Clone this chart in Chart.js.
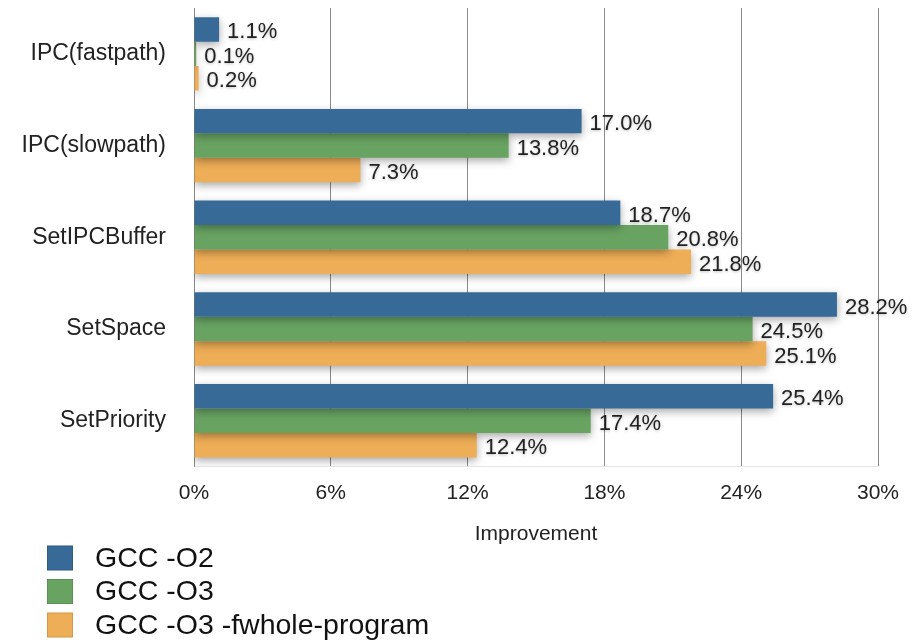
<!DOCTYPE html>
<html>
<head>
<meta charset="utf-8">
<script src="https://cdn.jsdelivr.net/npm/chart.js@4/dist/chart.umd.min.js"></script>
<style>
  html, body { margin: 0; padding: 0; background: #ffffff; }
  #wrap { position: relative; width: 918px; height: 640px; }
</style>
</head>
<body>
<div id="wrap"><canvas id="c" width="918" height="640"></canvas></div>
<script>
const categories = ['IPC(fastpath)', 'IPC(slowpath)', 'SetIPCBuffer', 'SetSpace', 'SetPriority'];
const seriesNames = ['GCC -O2', 'GCC -O3', 'GCC -O3 -fwhole-program'];
const gccO2 = [1.1, 17.0, 18.7, 28.2, 25.4];
const gccO3 = [0.1, 13.8, 20.8, 24.5, 17.4];
const gccO3Whole = [0.2, 7.3, 21.8, 25.1, 12.4];
const tickValues = [0, 6, 12, 18, 24, 30];
const axisTitle = 'Improvement';

const colors = ['#386a98', '#68a362', '#eead57'];
const FONT = '"Liberation Sans", Arial, Helvetica, sans-serif';

const shadowPlugin = {
  id: 'barShadow',
  beforeDatasetsDraw(chart) {
    const ctx = chart.ctx;
    ctx.save();
    ctx.shadowColor = 'rgba(0,0,0,0.35)';
    ctx.shadowBlur = 9;
    ctx.shadowOffsetX = 0;
    ctx.shadowOffsetY = 3;
  },
  afterDatasetsDraw(chart) {
    chart.ctx.restore();
  }
};

const labelPlugin = {
  id: 'valueLabels',
  afterDatasetsDraw(chart) {
    const ctx = chart.ctx;
    ctx.save();
    ctx.font = '22px ' + FONT;
    ctx.fillStyle = '#222';
    ctx.textAlign = 'left';
    ctx.textBaseline = 'middle';
    ctx.shadowColor = 'rgba(0,0,0,0.25)';
    ctx.shadowBlur = 3;
    ctx.shadowOffsetY = 1;
    chart.data.datasets.forEach((ds, di) => {
      const meta = chart.getDatasetMeta(di);
      meta.data.forEach((el, i) => {
        ctx.fillText(ds.data[i].toFixed(1) + '%', el.x + 8, el.y + 3);
      });
    });
    ctx.restore();
  }
};

const legendPlugin = {
  id: 'customLegend',
  afterDraw(chart) {
    const ctx = chart.ctx;
    ctx.save();
    ctx.font = '28.5px ' + FONT;
    ctx.textBaseline = 'middle';
    ctx.textAlign = 'left';
    const startY = 558, step = 33.5;
    chart.data.datasets.forEach((ds, i) => {
      const cy = startY + i * step;
      ctx.fillStyle = ds.backgroundColor;
      ctx.fillRect(47, cy - 12.5, 26, 25);
      ctx.strokeStyle = 'rgba(0,0,0,0.12)';
      ctx.lineWidth = 1;
      ctx.strokeRect(47.5, cy - 12, 25, 24);
      ctx.fillStyle = '#111';
      ctx.fillText(ds.label, 95, cy + 1);
    });
    ctx.restore();
  }
};

const seriesData = [gccO2, gccO3, gccO3Whole];

new Chart(document.getElementById('c'), {
  type: 'bar',
  data: {
    labels: categories,
    datasets: seriesNames.map((name, i) => ({
      label: name,
      data: seriesData[i],
      backgroundColor: colors[i],
      borderWidth: 0,
      categoryPercentage: 0.8,
      barPercentage: 1.0
    }))
  },
  options: {
    indexAxis: 'y',
    responsive: false,
    animation: false,
    devicePixelRatio: 1,
    layout: { padding: { left: 0, right: 40, top: 8, bottom: 93 } },
    plugins: {
      legend: { display: false },
      tooltip: { enabled: false }
    },
    scales: {
      x: {
        min: 0,
        max: 30,
        afterBuildTicks(scale) {
          scale.ticks = tickValues.map(v => ({ value: v }));
        },
        afterFit(scale) { scale.paddingLeft = 0; scale.paddingRight = 0; },
        ticks: {
          callback: v => v + '%',
          color: '#222',
          font: { family: FONT, size: 21 },
          padding: 14,
          maxRotation: 0
        },
        grid: {
          color: '#8a8a8a',
          lineWidth: 1,
          drawTicks: false
        },
        border: { display: true, color: 'rgba(0,0,0,0.1)' },
        title: {
          display: true,
          text: axisTitle,
          color: '#222',
          font: { family: FONT, size: 21 },
          padding: { top: 2, bottom: 0 }
        }
      },
      y: {
        afterFit(scale) {
          scale.width = 194;
          scale.paddingTop = 0;
          scale.paddingBottom = 0;
        },
        ticks: {
          color: '#222',
          font: { family: FONT, size: 23 },
          padding: 28
        },
        grid: { display: false, drawTicks: false },
        border: { display: true, color: '#8a8a8a' }
      }
    }
  },
  plugins: [shadowPlugin, labelPlugin, legendPlugin]
});
</script>
</body>
</html>
